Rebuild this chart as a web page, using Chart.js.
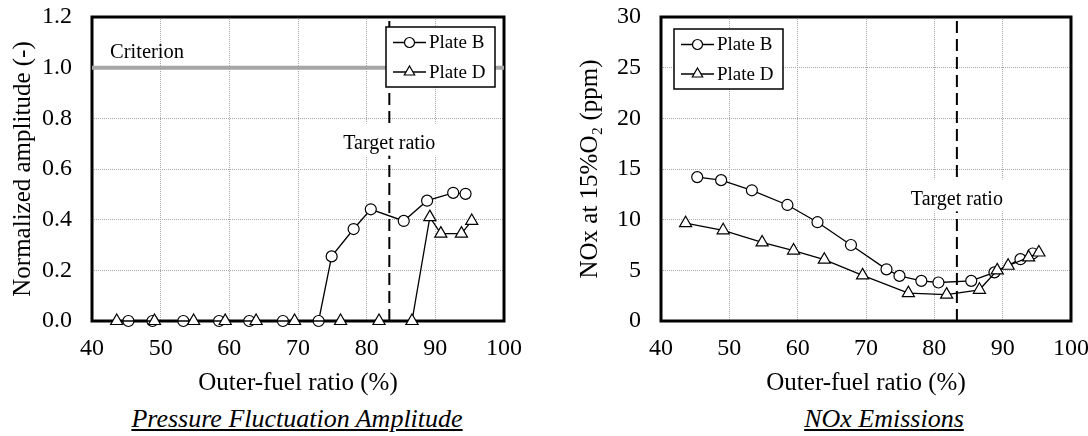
<!DOCTYPE html>
<html>
<head>
<meta charset="utf-8">
<script src="https://cdn.jsdelivr.net/npm/chart.js"></script>
<style>
  body { margin: 0; background: #fff; width: 1088px; height: 436px; overflow: hidden; position: relative; font-family: "Liberation Serif", "DejaVu Serif", serif; }
  .box { position: absolute; top: 0; width: 544px; height: 400px; }
  .sub { position: absolute; top: 405px; font-style: italic; text-decoration: underline; font-size: 26px; line-height: 28px; white-space: nowrap; transform: translateX(-50%); }
</style>
</head>
<body>
<div class="box" style="left:0"><canvas id="ampChart" width="544" height="400"></canvas></div>
<div class="box" style="left:544px"><canvas id="noxChart" width="544" height="400"></canvas></div>
<div class="sub" style="left:297px">Pressure Fluctuation Amplitude</div>
<div class="sub" style="left:884px">NOx Emissions</div>
<script>
// outer-fuel ratio (%) for each plate
const xB = [45.3, 48.8, 53.3, 58.5, 62.9, 67.8, 73.0, 74.9, 78.1, 80.6, 85.4, 88.8, 92.6, 94.4];
const xD = [43.6, 49.1, 54.8, 59.4, 63.9, 69.5, 76.2, 81.8, 86.6, 89.2, 90.8, 93.8, 95.3];

// normalized amplitude (-)
const ampB = [0, 0, 0, 0, 0, 0, 0, 0.255, 0.363, 0.441, 0.395, 0.475, 0.506, 0.502];
const ampD = [0, 0, 0, 0, 0, 0, 0, 0, 0, 0.41, 0.345, 0.345, 0.395];

// NOx at 15% O2 (ppm)
const noxB = [14.2, 13.9, 12.9, 11.45, 9.75, 7.5, 5.1, 4.45, 3.96, 3.8, 3.96, 4.8, 6.1, 6.66];
const noxD = [9.65, 8.95, 7.75, 6.95, 6.05, 4.5, 2.75, 2.6, 3.08, 5.0, 5.45, 6.27, 6.76];

const criterion = 1.0;
const targetRatio = 83.3;

const serif = "'Liberation Serif', 'DejaVu Serif', serif";
const pts = (xs, ys) => xs.map((x, i) => ({x: x, y: ys[i]}));

// black box round the plot area
const framePlugin = {
  id: 'frame',
  beforeDatasetsDraw(chart) {
    const {ctx, chartArea: a} = chart;
    ctx.save();
    ctx.strokeStyle = '#000';
    ctx.lineWidth = 3;
    ctx.strokeRect(a.left, a.top, a.right - a.left, a.bottom - a.top);
    ctx.restore();
  }
};

// text notes placed in data coords
const notesPlugin = {
  id: 'notes',
  afterDatasetsDraw(chart, args, opts) {
    const {ctx, scales: {x, y}} = chart;
    ctx.save();
    (opts.items || []).forEach(n => {
      const px = x.getPixelForValue(n.x) + (n.dx || 0);
      const py = y.getPixelForValue(n.y) + (n.dy || 0);
      ctx.font = (n.size || 20) + 'px ' + serif;
      ctx.textAlign = n.align || 'center';
      ctx.textBaseline = 'middle';
      if (n.bg) {
        const w = ctx.measureText(n.text).width;
        const left = n.align === 'left' ? px : px - w / 2;
        ctx.fillStyle = '#fff';
        ctx.fillRect(left - n.bg[0], py - n.bg[1], w + 2 * n.bg[0], n.bg[1] + n.bg[2]);
      }
      ctx.fillStyle = '#000';
      ctx.fillText(n.text, px, py);
    });
    ctx.restore();
  }
};

function marker(ctx, style, x, y) {
  ctx.beginPath();
  if (style === 'triangle') {
    const r = 6;
    ctx.moveTo(x, y - r);
    ctx.lineTo(x + r * 0.866, y + r / 2);
    ctx.lineTo(x - r * 0.866, y + r / 2);
    ctx.closePath();
  } else {
    ctx.arc(x, y, 5, 0, Math.PI * 2);
  }
  ctx.fillStyle = '#fff';
  ctx.fill();
  ctx.stroke();
}

// boxed legend inside the plot
const boxLegend = {
  id: 'boxLegend',
  afterDatasetsDraw(chart, args, opts) {
    const {ctx, chartArea: a} = chart;
    const items = chart.data.datasets.filter(d => d.inLegend);
    const w = 109, h = 60;
    const left = opts.side === 'right' ? a.right - opts.dx - w : a.left + opts.dx;
    const top = a.top + opts.dy;
    ctx.save();
    ctx.fillStyle = '#fff';
    ctx.fillRect(left, top, w, h);
    ctx.strokeStyle = '#000';
    ctx.lineWidth = 1.5;
    ctx.strokeRect(left, top, w, h);
    items.forEach((d, i) => {
      const cy = top + 15.5 + i * 29.5;
      ctx.lineWidth = 1.3;
      ctx.beginPath();
      ctx.moveTo(left + 7, cy);
      ctx.lineTo(left + 40, cy);
      ctx.stroke();
      ctx.lineWidth = 1.2;
      marker(ctx, d.pointStyle, left + 23.5, cy);
      ctx.fillStyle = '#000';
      ctx.font = '19px ' + serif;
      ctx.textAlign = 'left';
      ctx.textBaseline = 'middle';
      ctx.fillText(d.label, left + 43, cy + 1);
    });
    ctx.restore();
  }
};

const tickFont = {family: serif, size: 24};
const titleFont = {family: serif, size: 25};

function series(label, data, style, order) {
  return {
    label: label,
    inLegend: true,
    data: data,
    pointStyle: style,
    pointRadius: style === 'triangle' ? 7 : 5.5,
    pointBackgroundColor: '#fff',
    pointBorderColor: '#000',
    pointBorderWidth: 1.2,
    borderColor: '#000',
    borderWidth: 1.3,
    tension: 0,
    clip: false,
    order: order
  };
}

function targetLine(yMax) {
  return {
    label: 'Target ratio',
    data: [{x: targetRatio, y: 0}, {x: targetRatio, y: yMax}],
    borderColor: '#000',
    borderWidth: 2,
    borderDash: [12, 6],
    pointRadius: 0,
    order: 3
  };
}

function makeScales(yMax, yStep, yTitle, yWidth, titlePad, fmt) {
  return {
    x: {
      type: 'linear', min: 40, max: 100,
      ticks: {stepSize: 10, color: '#000', font: tickFont, padding: 13, maxRotation: 0},
      grid: {color: '#a8a8a8', drawTicks: false, lineWidth: 1},
      border: {display: false, dash: [1, 1]},
      title: {display: true, text: 'Outer-fuel ratio (%)', color: '#000', font: titleFont, padding: {top: 0, bottom: 2}},
      afterFit: s => { s.height = 79; s.paddingLeft = 0; s.paddingRight = 0; }
    },
    y: {
      min: 0, max: yMax,
      ticks: {stepSize: yStep, color: '#000', font: tickFont, padding: 20, callback: fmt},
      grid: {color: '#a8a8a8', drawTicks: false, lineWidth: 1},
      border: {display: false, dash: [1, 1]},
      title: {display: true, text: yTitle, color: '#000', font: titleFont, padding: {top: titlePad, bottom: 0}},
      afterFit: s => { s.width = yWidth; s.paddingTop = 0; s.paddingBottom = 0; }
    }
  };
}

new Chart(document.getElementById('ampChart'), {
  type: 'line',
  data: {
    datasets: [
      series('Plate B', pts(xB, ampB), 'circle', 2),
      series('Plate D', pts(xD, ampD), 'triangle', 1),
      {
        label: 'Criterion',
        data: [{x: 40, y: criterion}, {x: 100, y: criterion}],
        borderColor: '#a6a6a6',
        borderWidth: 4,
        pointRadius: 0,
        order: 4
      },
      targetLine(1.2)
    ]
  },
  options: {
    responsive: false,
    animation: false,
    events: [],
    layout: {padding: {top: 17, right: 40, left: 0, bottom: 0}},
    scales: makeScales(1.2, 0.2, 'Normalized amplitude (-)', 92, 8, v => v.toFixed(1)),
    plugins: {
      legend: {display: false},
      tooltip: {enabled: false},
      boxLegend: {side: 'right', dx: 9, dy: 10},
      notes: {items: [
        {text: 'Criterion', x: 40, y: criterion, dx: 18, dy: -15, align: 'left', size: 20.5},
        {text: 'Target ratio', x: targetRatio, y: 0.7, bg: [6, 20, 12]}
      ]}
    }
  },
  plugins: [framePlugin, notesPlugin, boxLegend]
});

new Chart(document.getElementById('noxChart'), {
  type: 'line',
  data: {
    datasets: [
      series('Plate B', pts(xB, noxB), 'circle', 2),
      series('Plate D', pts(xD, noxD), 'triangle', 1),
      targetLine(30)
    ]
  },
  options: {
    responsive: false,
    animation: false,
    events: [],
    layout: {padding: {top: 17, right: 17, left: 0, bottom: 0}},
    scales: makeScales(30, 5, 'NOx at 15%O\u2082 (ppm)', 117, 31, v => v),
    plugins: {
      legend: {display: false},
      tooltip: {enabled: false},
      boxLegend: {side: 'left', dx: 13, dy: 12},
      notes: {items: [
        {text: 'Target ratio', x: targetRatio, y: 12, bg: [6, 20, 12]}
      ]}
    }
  },
  plugins: [framePlugin, notesPlugin, boxLegend]
});
</script>
</body>
</html>
